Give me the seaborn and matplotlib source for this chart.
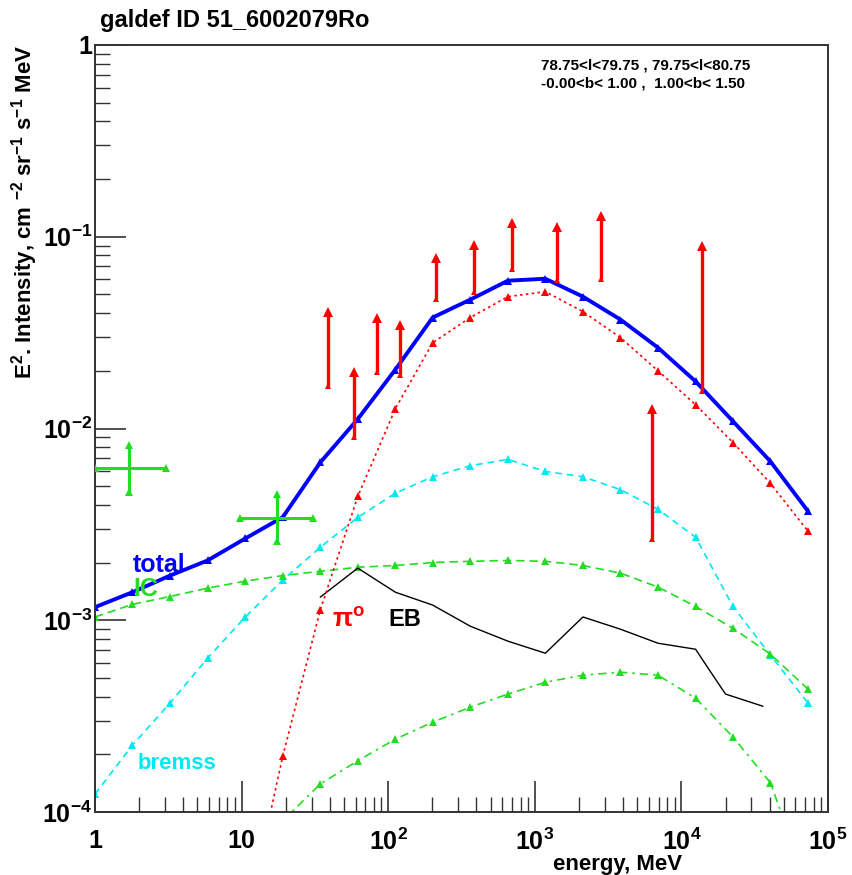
import numpy as np
import pandas as pd
import matplotlib
matplotlib.use("Agg")
import matplotlib.pyplot as plt
import seaborn as sns
from matplotlib.ticker import FixedLocator, LogLocator, NullFormatter

# ---------------- data ----------------
energy = [1.00, 1.80, 3.25, 5.86, 10.6, 19.1, 34.4, 62.0, 112, 201,
          363, 655, 1180, 2130, 3840, 6920, 12500, 22500, 40500, 73100]
total = [1.17e-3, 1.40e-3, 1.71e-3, 2.05e-3, 2.67e-3, 3.45e-3, 6.65e-3, 1.12e-2, 2.03e-2, 3.79e-2,
         4.70e-2, 5.90e-2, 6.04e-2, 4.87e-2, 3.70e-2, 2.64e-2, 1.76e-2, 1.09e-2, 6.73e-3, 3.70e-3]
pi0 = [np.nan, np.nan, np.nan, np.nan, 2.5e-5, 1.96e-4, 1.13e-3, 4.42e-3, 1.27e-2, 2.80e-2,
       3.79e-2, 4.87e-2, 5.17e-2, 4.07e-2, 2.98e-2, 2.00e-2, 1.33e-2, 8.45e-3, 5.17e-3, 2.91e-3]
bremss = [1.24e-4, 2.23e-4, 3.70e-4, 6.34e-4, 1.04e-3, 1.62e-3, 2.40e-3, 3.44e-3, 4.60e-3, 5.60e-3,
          6.40e-3, 6.90e-3, 5.97e-3, 5.60e-3, 4.80e-3, 3.79e-3, 2.71e-3, 1.18e-3, 6.57e-4, 3.70e-4]
ic = [1.04e-3, 1.21e-3, 1.33e-3, 1.47e-3, 1.60e-3, 1.71e-3, 1.80e-3, 1.89e-3, 1.93e-3, 2.00e-3,
      2.03e-3, 2.05e-3, 2.03e-3, 1.93e-3, 1.76e-3, 1.49e-3, 1.18e-3, 9.08e-4, 6.65e-4, 4.37e-4]
ic2 = [np.nan, np.nan, np.nan, np.nan, np.nan, 9.0e-5, 1.40e-4, 1.85e-4, 2.40e-4, 2.94e-4,
       3.52e-4, 4.12e-4, 4.75e-4, 5.17e-4, 5.36e-4, 5.17e-4, 3.92e-4, 2.46e-4, 1.42e-4, 4.0e-5]

eb_energy = [34.4, 62.0, 112, 201, 363, 655, 1180, 2130, 3840, 6920, 12500, 14600, 20000, 36000]
eb_flux = [1.32e-3, 1.87e-3, 1.40e-3, 1.20e-3, 9.31e-4, 7.78e-4, 6.73e-4, 1.04e-3, 8.98e-4,
           7.59e-4, 7.06e-4, 5.90e-4, 4.12e-4, 3.56e-4]

ul_energy = [39, 58.6, 84, 121, 213, 386, 702, 1425, 2840, 6310, 13900]
ul_low = [1.67e-2, 8.98e-3, 1.98e-2, 1.89e-2, 4.75e-2, 5.17e-2, 6.81e-2, 5.97e-2, 6.04e-2, 2.64e-3, 1.56e-2]
ul_high = [4.07e-2, 1.98e-2, 3.79e-2, 3.48e-2, 7.78e-2, 9.08e-2, 0.118, 0.113, 0.129, 1.27e-2, 8.98e-2]

cross_energy = [1.71, 17.5]
cross_e_lo = [1.0, 9.77]
cross_e_hi = [3.05, 30.8]
cross_flux = [6.19e-3, 3.40e-3]
cross_f_lo = [4.64e-3, 2.58e-3]
cross_f_hi = [8.25e-3, 4.53e-3]

x_ticks = [1, 10, 100, 1000, 10000, 100000]
x_ticklabels = ["1", "10", "$10^{2}$", "$10^{3}$", "$10^{4}$", "$10^{5}$"]
y_ticks = [1e-4, 1e-3, 1e-2, 1e-1, 1]
y_ticklabels = ["$10^{-4}$", "$10^{-3}$", "$10^{-2}$", "$10^{-1}$", "1"]

# ---------------- style ----------------
sns.set_style("white")
plt.rcParams['font.family'] = ['Liberation Sans', 'DejaVu Sans']
plt.rcParams['font.weight'] = 'bold'
plt.rcParams['mathtext.fontset'] = 'custom'
plt.rcParams['mathtext.rm'] = 'Liberation Sans:bold'
plt.rcParams['mathtext.bf'] = 'Liberation Sans:bold'
plt.rcParams['mathtext.it'] = 'Liberation Sans:bold'
plt.rcParams['mathtext.default'] = 'bf'
plt.rcParams['text.color'] = 'black'
plt.rcParams['axes.labelcolor'] = 'black'
plt.rcParams['xtick.color'] = 'black'
plt.rcParams['ytick.color'] = 'black'

BLUE = '#0000ff'
RED = '#ff0000'
CYAN = '#00e8f0'
GREEN = '#22dd22'

fig = plt.figure(figsize=(8.52, 8.75), dpi=100)
ax = fig.add_axes([95/852, 1-812/875, 733/852, 767/875])
ax.set_xscale('log')
ax.set_yscale('log')

df = pd.DataFrame({'E': energy, 'total': total, 'pi0': pi0, 'bremss': bremss,
                   'ic': ic, 'ic2': ic2})

sns.lineplot(data=df, x='E', y='bremss', ax=ax, color=CYAN, lw=1.2,
             linestyle=(0, (4, 3)), marker='^', markersize=6, markeredgewidth=0,
             estimator=None, sort=False)
sns.lineplot(data=df, x='E', y='ic', ax=ax, color=GREEN, lw=1.2,
             linestyle=(0, (5, 3)), marker='^', markersize=6, markeredgewidth=0,
             estimator=None, sort=False)
sns.lineplot(data=df.dropna(subset=['ic2']), x='E', y='ic2', ax=ax, color=GREEN, lw=1.2,
             linestyle=(0, (5, 3, 1.5, 3)), marker='^', markersize=6, markeredgewidth=0,
             estimator=None, sort=False)
sns.lineplot(x=eb_energy, y=eb_flux, ax=ax, color='black', lw=1.0,
             estimator=None, sort=False)
sns.lineplot(data=df.dropna(subset=['pi0']), x='E', y='pi0', ax=ax, color=RED, lw=1.2,
             linestyle=(0, (1.5, 2)), marker='^', markersize=6, markeredgewidth=0,
             estimator=None, sort=False)
sns.lineplot(data=df, x='E', y='total', ax=ax, color=BLUE, lw=2.8,
             marker='^', markersize=6, markeredgewidth=0,
             estimator=None, sort=False)

# upper limit bars
ax.vlines(ul_energy, ul_low, ul_high, color=RED, lw=2.4, zorder=5)
ax.plot(ul_energy, ul_high, linestyle='none', marker='^', color=RED, markersize=7,
        markeredgewidth=0, zorder=6)
ax.plot(ul_energy, ul_low, linestyle='none', marker='^', color=RED, markersize=5,
        markeredgewidth=0, zorder=6)

# green data crosses
ax.hlines(cross_flux, cross_e_lo, cross_e_hi, color=GREEN, lw=2.2, zorder=5)
ax.vlines(cross_energy, cross_f_lo, cross_f_hi, color=GREEN, lw=2.2, zorder=5)
for xs, ys in [(cross_e_lo, cross_flux), (cross_e_hi, cross_flux),
               (cross_energy, cross_f_lo), (cross_energy, cross_f_hi)]:
    ax.plot(xs, ys, linestyle='none', marker='^', color=GREEN, markersize=6,
            markeredgewidth=0, zorder=6)

# component labels
ax.text(1.82, 1.93e-3, "total", color=BLUE, fontsize=18, fontweight='bold', ha='left', va='center')
ax.text(1.82, 1.45e-3, "IC", color=GREEN, fontsize=18, fontweight='bold', ha='left', va='center')
ax.text(41.5, 1.00e-3, r"π$^{o}$", color=RED, fontsize=19, fontweight='bold', ha='left', va='center')
ax.text(100, 1.01e-3, "EB", color='black', fontsize=17, fontweight='bold', ha='left', va='center')
ax.text(1.94, 1.78e-4, "bremss", color=CYAN, fontsize=16, fontweight='bold', ha='left', va='center')

# axes
ax.set_xlim(1, 1e5)
ax.set_ylim(1e-4, 1)
ax.xaxis.set_major_locator(FixedLocator(x_ticks))
ax.set_xticklabels(x_ticklabels)
ax.yaxis.set_major_locator(FixedLocator(y_ticks))
ax.set_yticklabels(y_ticklabels)
ax.xaxis.set_minor_locator(LogLocator(base=10, subs=np.arange(2, 10), numticks=20))
ax.yaxis.set_minor_locator(LogLocator(base=10, subs=np.arange(2, 10), numticks=20))
ax.xaxis.set_minor_formatter(NullFormatter())
ax.yaxis.set_minor_formatter(NullFormatter())
ax.tick_params(which='both', bottom=True, left=True, top=False, right=False)
ax.tick_params(which='major', direction='in', length=22, width=1.2, labelsize=18,
               color='#333333')
ax.tick_params(which='minor', direction='in', length=11, width=1.0, color='#333333')
ax.tick_params(axis='x', which='major', pad=12)
ax.tick_params(axis='y', which='major', pad=2)
for sp in ax.spines.values():
    sp.set_linewidth(1.4)
    sp.set_color('#333333')

ax.set_xlabel("energy, MeV", fontsize=16, fontweight='bold')
ax.xaxis.set_label_coords(0.713, -0.055)
ax.set_ylabel(r"E$^{2}$. Intensity, cm $^{-2}$ sr$^{-1}$ s$^{-1}$ MeV", fontsize=16,
              fontweight='bold', loc='top')
ax.yaxis.set_label_coords(-0.075, 1.0)

fig.text(100/852, 1-20/875, "galdef ID 51_6002079Ro", fontsize=17, fontweight='bold',
         ha='left', va='center')
fig.text(541/852, 1-66/875, "78.75<l<79.75 , 79.75<l<80.75", fontsize=11, fontweight='bold',
         ha='left', va='center')
fig.text(541/852, 1-84/875, "-0.00<b< 1.00 ,  1.00<b< 1.50", fontsize=11, fontweight='bold',
         ha='left', va='center')

fig.savefig("out.png", dpi=100, facecolor='white')
